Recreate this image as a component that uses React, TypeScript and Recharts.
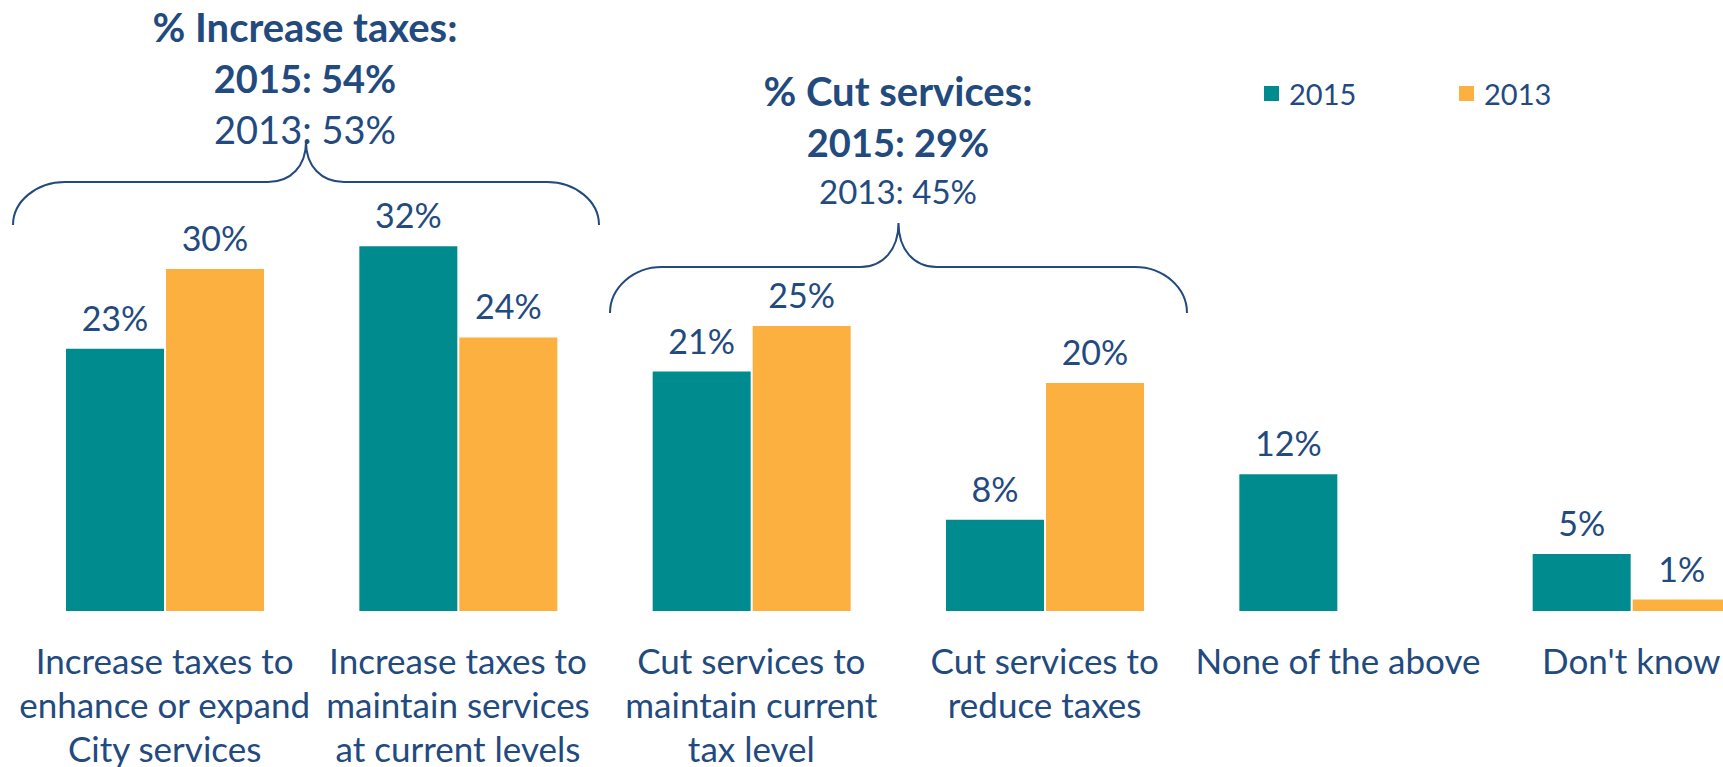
import React from 'react';
import { BarChart, Bar, XAxis, YAxis, Legend, LabelList } from 'recharts';

// categories and values
const categories = [
  'Increase taxes to\nenhance or expand\nCity services',
  'Increase taxes to\nmaintain services\nat current levels',
  'Cut services to\nmaintain current\ntax level',
  'Cut services to\nreduce taxes',
  'None of the above',
  "Don't know",
];
const values2015 = [23, 32, 21, 8, 12, 5];
const values2013: (number | null)[] = [30, 24, 25, 20, null, 1];
const seriesNames = ['2015', '2013'];

const increaseTitle = ['% Increase taxes:', '2015: 54%', '2013: 53%'];
const cutTitle = ['% Cut services:', '2015: 29%', '2013: 45%'];

const TEAL = '#008C8F';
const ORANGE = '#FBB040';
const NAVY = '#234A7E';
const FONT = 'Lato, sans-serif';

const data = categories.map((name, i) => ({
  name,
  y2015: values2015[i],
  y2013: values2013[i],
}));

const CategoryTick = (props: any) => {
  const { x, y, payload } = props;
  const lines = String(payload.value).split('\n');
  return (
    <text x={x} y={y} textAnchor="middle" fill={NAVY} fontSize={35} fontFamily={FONT}>
      {lines.map((l, i) => (
        <tspan key={i} x={x} dy={i === 0 ? 63 : 44}>
          {l}
        </tspan>
      ))}
    </text>
  );
};

const LegendContent = () => {
  const colors = [TEAL, ORANGE];
  return (
    <div style={{ display: 'flex', fontFamily: FONT }}>
      {seriesNames.map((n, i) => (
        <div key={n} style={{ width: 195, display: 'flex', alignItems: 'center' }}>
          <span style={{ width: 15, height: 15, background: colors[i], marginRight: 10, display: 'inline-block' }} />
          <span style={{ color: NAVY, fontSize: 29 }}>{n}</span>
        </div>
      ))}
    </div>
  );
};

function bracePath(x1: number, x2: number, yTip: number, yMid: number, yCusp: number) {
  const xc = (x1 + x2) / 2;
  const r = 52;
  const r2 = 38;
  const h = yTip - yMid;
  const c = yMid - yCusp;
  return [
    `M ${x1} ${yTip}`,
    `C ${x1} ${yTip - h * 0.55} ${x1 + r * 0.45} ${yMid} ${x1 + r} ${yMid}`,
    `L ${xc - r2} ${yMid}`,
    `C ${xc - r2 * 0.4} ${yMid} ${xc} ${yMid - c * 0.4} ${xc} ${yCusp}`,
    `C ${xc} ${yMid - c * 0.4} ${xc + r2 * 0.4} ${yMid} ${xc + r2} ${yMid}`,
    `L ${x2 - r} ${yMid}`,
    `C ${x2 - r * 0.45} ${yMid} ${x2} ${yTip - h * 0.55} ${x2} ${yTip}`,
  ].join(' ');
}

const GroupTitle = ({ x, y, lines, lastSize }: { x: number; y: number; lines: string[]; lastSize: number }) => (
  <text x={x} y={y} textAnchor="middle" fill={NAVY} fontFamily={FONT}>
    <tspan x={x} dy={0} fontWeight="bold" fontSize={40}>{lines[0]}</tspan>
    <tspan x={x} dy={51} fontWeight="bold" fontSize={38}>{lines[1]}</tspan>
    <tspan x={x} dy={lastSize < 36 ? 47 : 51} fontSize={lastSize}>{lines[2]}</tspan>
  </text>
);

export default function App() {
  return (
    <div
      style={{
        position: 'absolute',
        left: 0,
        top: 0,
        width: 1723,
        height: 767,
        overflow: 'hidden',
        background: '#fff',
        fontFamily: FONT,
      }}
    >
      <BarChart
        width={1780}
        height={767}
        data={data}
        margin={{ top: 155, right: 2, bottom: 0, left: 18 }}
        barGap={2}
        barSize={98}
      >
        <XAxis
          dataKey="name"
          height={156}
          axisLine={false}
          tickLine={false}
          tickSize={0}
          tickMargin={0}
          interval={0}
          tick={<CategoryTick />}
        />
        <YAxis hide domain={[0, 40]} />
        <Legend
          layout="horizontal"
          verticalAlign="middle"
          align="center"
          content={<LegendContent />}
          wrapperStyle={{ left: 1264, top: 76, width: 'auto' }}
        />
        <Bar dataKey="y2015" name={seriesNames[0]} fill={TEAL} isAnimationActive={false}>
          <LabelList
            dataKey="y2015"
            position="top"
            offset={18}
            fill={NAVY}
            fontSize={34}
            fontFamily={FONT}
            formatter={(v: any) => (v == null ? '' : `${v}%`)}
          />
        </Bar>
        <Bar dataKey="y2013" name={seriesNames[1]} fill={ORANGE} isAnimationActive={false}>
          <LabelList
            dataKey="y2013"
            position="top"
            offset={18}
            fill={NAVY}
            fontSize={34}
            fontFamily={FONT}
            formatter={(v: any) => (v == null ? '' : `${v}%`)}
          />
        </Bar>
      </BarChart>
      <svg
        width={1723}
        height={767}
        style={{ position: 'absolute', left: 0, top: 0, pointerEvents: 'none' }}
      >
        <path d={bracePath(13, 599, 225, 182, 142)} fill="none" stroke={NAVY} strokeWidth={2} />
        <path d={bracePath(610, 1187, 313, 267, 223)} fill="none" stroke={NAVY} strokeWidth={2} />
        <GroupTitle x={305} y={42} lines={increaseTitle} lastSize={38} />
        <GroupTitle x={898} y={106} lines={cutTitle} lastSize={33} />
      </svg>
    </div>
  );
}
